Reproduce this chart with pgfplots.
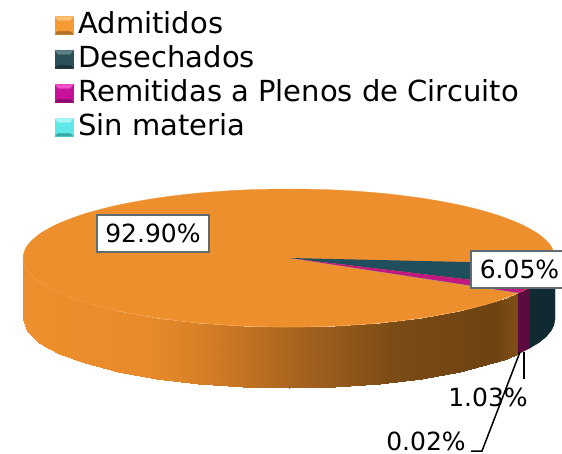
\documentclass[border=0pt]{standalone}
\usepackage{pgfplots}
\usepackage{fontspec}
\setmainfont{DejaVu Sans}
\pgfplotsset{compat=1.18}
\definecolor{topor}{HTML}{EE8F2D}
\definecolor{topteal}{HTML}{1F4F5C}
\definecolor{toppink}{HTML}{C2187F}
\definecolor{sideteal}{HTML}{0F2A30}
\definecolor{sidepink}{HTML}{5C0A3F}
\definecolor{boxgray}{HTML}{5F6B70}
\definecolor{rimor}{HTML}{F5A04A}
\definecolor{legOa}{HTML}{F59A35}\definecolor{legOb}{HTML}{FBC070}\definecolor{legOc}{HTML}{B0702A}
\definecolor{legTa}{HTML}{2B5058}\definecolor{legTb}{HTML}{5C8088}\definecolor{legTc}{HTML}{1A3338}
\definecolor{legPa}{HTML}{C8119A}\definecolor{legPb}{HTML}{F050C8}\definecolor{legPc}{HTML}{880A68}
\definecolor{legCa}{HTML}{5FE8E8}\definecolor{legCb}{HTML}{A8F6F6}\definecolor{legCc}{HTML}{38A8A8}
\newcommand{\legsq}[3]{%
  \fill[#1] (0pt,-8pt) rectangle (18pt,10pt);
  \fill[#2] (0pt,10pt) -- (18pt,10pt) -- (15pt,6pt) -- (3pt,6pt) -- cycle;
  \fill[#3] (0pt,-8pt) -- (18pt,-8pt) -- (15pt,-5pt) -- (3pt,-5pt) -- cycle;
}
\begin{document}
\begin{tikzpicture}
\path[use as bounding box] (0,0) rectangle (562pt,454pt);
\begin{axis}[
  at={(0,0)}, anchor=south west,
  scale only axis, width=562pt, height=454pt,
  xmin=0, xmax=562, ymin=0, ymax=454, y dir=reverse,
  enlargelimits=false, axis lines=none, clip=false,
  colormap={side}{
    rgb255(0cm)=(238,143,45);
    rgb255(2.5cm)=(232,138,43);
    rgb255(3.5cm)=(217,128,38);
    rgb255(5.5cm)=(168,100,31);
    rgb255(7.5cm)=(122,75,21);
    rgb255(9.5cm)=(110,67,18);
    rgb255(10cm)=(128,80,21)},
  legend style={at={(axis cs:55,9.3)}, anchor=north west, draw=none, fill=none,
    inner sep=0pt, outer sep=0pt,
    nodes={inner sep=0pt, text height=24pt, text depth=10pt},
    font=\fontsize{29}{34}\selectfont, legend cell align=left,
    /tikz/column 1/.style={column sep=5pt}},
]
% legend entries
\addlegendimage{legend image code/.code={\legsq{legOa}{legOb}{legOc}}}
\addlegendentry{Admitidos}
\addlegendimage{legend image code/.code={\legsq{legTa}{legTb}{legTc}}}
\addlegendentry{Desechados}
\addlegendimage{legend image code/.code={\legsq{legPa}{legPb}{legPc}}}
\addlegendentry{Remitidas a Plenos de Circuito}
\addlegendimage{legend image code/.code={\legsq{legCa}{legCb}{legCc}}}
\addlegendentry{Sin materia}

% side of the orange slice
\addplot[surf, shader=interp, mesh/rows=2, point meta=x, point meta min=23, point meta max=519, forget plot] coordinates {
(23,258)(27,270)(39,281.6)(58.6,292.5)(85.2,302.4)(118,310.9)(156,317.8)(198,322.9)(242.8,326)(289,327)(335.2,326)(380,322.9)(422,317.8)(460,310.9)(492.8,302.4)(507,297.6)(518,293)

(23,319)(27,331)(39,342.6)(58.6,353.5)(85.2,363.4)(118,371.9)(156,378.8)(198,383.9)(242.8,387)(289,388)(335.2,387)(380,383.9)(422,378.8)(460,371.9)(492.8,363.4)(507,358.6)(518,354)
};
% side of the pink slice
\addplot[fill=sidepink, draw=sidepink, line width=0.3pt, forget plot] coordinates {
(518,293)(524,290)(530,287)(530,348)(524,351)(518,354)} -- cycle;
% side of the teal slice
\addplot[fill=sideteal, draw=sideteal, line width=0.3pt, forget plot] coordinates {
(530,287)(539,281.6)(546,275.9)(551,270)(554,264)(555,258)(555,319)(554,325)(551,331)(546,336.9)(539,342.6)(530,348)} -- cycle;
% top of the pie
\addplot[smooth, fill=topor, draw=topor, line width=0.3pt, forget plot] coordinates {
(555,258)(551,270)(539,281.6)(519.4,292.5)(492.8,302.4)(460,310.9)(422,317.8)(380,322.9)(335.2,326)(289,327)(242.8,326)(198,322.9)(156,317.8)(118,310.9)(85.2,302.4)(58.6,292.5)(39,281.6)(27,270)(23,258)(27,246)(39,234.4)(58.6,223.5)(85.2,213.6)(118,205.1)(156,198.2)(198,193.1)(242.8,190)(289,189)(335.2,190)(380,193.1)(422,198.2)(460,205.1)(492.8,213.6)(519.4,223.5)(539,234.4)(551,246)(555,258)};
% light rim
\addplot[smooth, draw=rimor, line width=0.8pt, opacity=0.6, forget plot] coordinates {
(23,258)(27,270)(39,281.6)(58.6,292.5)(85.2,302.4)(118,310.9)(156,317.8)(198,322.9)(242.8,326)(289,327)(335.2,326)(380,322.9)(422,317.8)(460,310.9)(492.8,302.4)(518,293)};
% teal wedge
\addplot[fill=topteal, draw=none, forget plot] coordinates {
(289,258)(554,264)(551,270)(546,275.9)(539,281.6)(530,287)} -- cycle;
% pink wedge
\addplot[fill=toppink, draw=none, forget plot] coordinates {
(289,258)(530,287)(524,290)(518,293)} -- cycle;
% sin materia wedge
\addplot[fill=legCa, draw=none, forget plot] coordinates {
(289,258)(518,293)(517.7,293.1)} -- cycle;

% leader lines
\draw[black, line width=1.5pt] (axis cs:524,352) -- (axis cs:524,379);
\draw[black, line width=1.5pt] (axis cs:520,352) -- (axis cs:482,451) -- (axis cs:471,451);

% labels
\node[fill=white, draw=boxgray, line width=1.2pt, minimum width=112pt, minimum height=37pt, inner sep=0pt,
  font=\fontsize{25}{30}\selectfont] at (axis cs:153,233.5) {92.90\%};
\fill[white] (axis cs:471,251) rectangle (axis cs:562,288);
\draw[boxgray, line width=1.2pt] (axis cs:562,251) -- (axis cs:471,251) -- (axis cs:471,288) -- (axis cs:562,288);
\node[inner sep=0pt, font=\fontsize{25}{30}\selectfont] at (axis cs:519.5,269.5) {6.05\%};
\node[inner sep=0pt, font=\fontsize{25}{30}\selectfont] at (axis cs:488,397) {1.03\%};
\node[inner sep=0pt, font=\fontsize{25}{30}\selectfont] at (axis cs:426,441) {0.02\%};
\end{axis}
\end{tikzpicture}
\end{document}
